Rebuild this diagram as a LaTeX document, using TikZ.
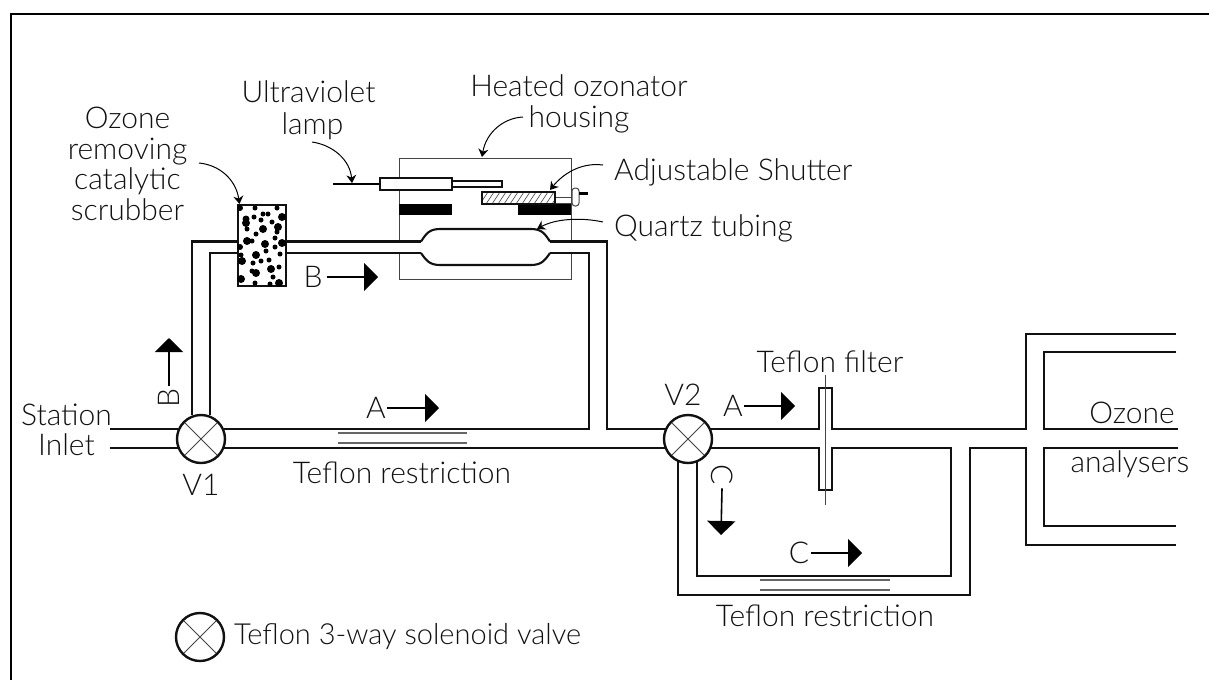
\documentclass[tikz,border=0pt]{standalone}
\usepackage{fontspec}
\setmainfont{Lato Light}
\usetikzlibrary{arrows.meta,calc}
\definecolor{pipeink}{HTML}{111111}
\definecolor{thinink}{HTML}{444444}
\definecolor{restrictink}{HTML}{666666}
\tikzset{
  pipe/.style={draw=pipeink, line width=2.1pt},
  casing/.style={draw=thinink, line width=1pt},
  txt/.style={font=\fontsize{30}{30.5}\selectfont, inner sep=0pt, align=center, text=pipeink},
  valve/.style={circle, draw=pipeink, line width=2.4pt, fill=white, minimum size=48pt, inner sep=0pt,
    path picture={\draw[thinink, line width=.9pt] (path picture bounding box.north west) -- (path picture bounding box.south east)
      (path picture bounding box.north east) -- (path picture bounding box.south west);}},
  flow/.style={-{Triangle[length=14pt,width=28pt]}, line width=1.6pt, draw=black, shorten >=-1pt},
  lead/.style={-{Stealth[length=8pt,width=10pt]}, line width=1pt, draw=black},
  restrict/.style={draw=restrictink, line width=1.1pt},
}
\begin{document}
\begin{tikzpicture}[x=1pt,y=-1pt]
  \useasboundingbox (0,0) rectangle (1209,680);
  \draw[black, line width=2pt] (11,680) -- (11,14) -- (1209,14);
  % ozonator housing
  \draw[casing] (399,158) rectangle (571,279);
  \fill[white] (390,242) rectangle (580,253);
  % pipes
  \draw[pipe] (110,429) -- (178,429) (110,448) -- (178,448);
  \draw[pipe] (192,415) -- (192,241.5) -- (421,241.5) (210,415) -- (210,253) -- (421,253);
  \draw[pipe] (224,429) -- (589,429) -- (589,253) -- (550,253) (224,448) -- (666,448);
  \draw[pipe] (550,241.5) -- (607,241.5) -- (607,429) -- (666,429);
  \draw[pipe] (710,429) -- (819,429) -- (819,388) -- (832,388) -- (832,429) -- (1026,429) -- (1026,334) -- (1176,334);
  \draw[pipe] (710,448) -- (819,448) -- (819,490) -- (832,490) -- (832,448) -- (951,448) -- (951,576) -- (697,576) -- (697,455);
  \draw[pipe] (678,455) -- (678,595) -- (970,595) -- (970,448) -- (1026,448) -- (1026,545) -- (1176,545);
  \draw[pipe] (1176,352) -- (1044,352) -- (1044,429) -- (1178,429);
  \draw[pipe] (1178,448) -- (1044,448) -- (1044,526) -- (1176,526);
  \draw[casing] (825,375) -- (825,505);
  % restrictions
  \draw[restrict] (338,433) -- (467,433) (338,443) -- (467,443);
  \draw[restrict] (760,580) -- (890,580) (760,590) -- (890,590);
  % quartz tubing
  \draw[pipe] (421,241.5) .. controls (426,234) and (429,229) .. (440,229) -- (531,229) .. controls (542,229) and (545,234) .. (550,241.5);
  \draw[pipe] (421,253) .. controls (426,260) and (429,265) .. (440,265) -- (531,265) .. controls (542,265) and (545,260) .. (550,253);
  % scrubber
  \draw[pipe, fill=white] (238,205) rectangle (286,286);
  \foreach \x/\y/\r in {240/208/3,255/208/2.5,277/208/2.5,263/214/2.5,268/214/2.5,282/217/4,246/219/3.5,246/223/4,254/217/2.5,261/220/2.5,
    272/222/2.5,278/227/4,277/232/2.5,263/229/4,247/229/2.5,256/234/2.5,275/238/2.5,282/243/4,247/241/4,252/241/2.5,265/244/4,240/247/3,
    275/247/2.5,266/251/2.5,241/255/2.5,256/255/4,242/261/4,253/263/2.5,261/261/2.5,269/260/2.5,280/254/2.5,271/269/4,279/267/2.5,252/271/2.5,
    256/273/4,273/277/2.5,241/279/4,255/283/2.5,279/283/4,270/284/2.5}
    \fill[black] (\x,\y) circle (\r pt);
  % lamp
  \draw[black, line width=1.3pt] (333,184) -- (380,184);
  \draw[pipe, fill=white] (380,178) rectangle (452,190);
  \draw[pipe, line width=1.4pt, fill=white] (452,181) rectangle (502,187);
  % blocks and shutter
  \fill[black] (399,204) rectangle (452,215);
  \fill[black] (518,204) rectangle (571,215);
  \draw[casing] (555,197) -- (572,197) (555,203) -- (572,203);
  \begin{scope}
    \clip (482,192) rectangle (555,204);
    \foreach \x in {480,486,...,558} \draw[thinink, line width=.6pt] (\x,204) -- (\x+8,192);
  \end{scope}
  \draw[pipe] (482,192) rectangle (555,204);
  \draw[casing, rounded corners=3pt] (572,188) rectangle (579,206);
  \fill[black] (579,192) rectangle (588,195);
  % valves
  \node[valve] (valveone) at (201,439) {};
  \node[valve] (valvetwo) at (688,439) {};
  \node[valve] (valvekey) at (200,637) {};
  % texts
  \node[txt] (scrubberlabel) at (127.5,164) {Ozone\\removing\\catalytic\\scrubber};
  \node[txt] (uvlabel) at (308.5,92) {Ultraviolet};
  \node[txt] (lamplabel) at (312.5,126) {lamp};
  \node[txt] (heatedlabel) at (579,104) {Heated ozonator\\housing};
  \node[txt, anchor=west] (shutterlabel) at (614,172) {Adjustable Shutter};
  \node[txt, anchor=west] (quartzlabel) at (614,228) {Quartz tubing};
  \node[txt] (inletlabel) at (66.5,430) {Station\\Inlet};
  \node[txt] (vonelabel) at (201,485) {V1};
  \node[txt] (vtwolabel) at (683,395) {V2};
  \node[txt] (restrictone) at (402,473) {Teflon restriction};
  \node[txt] (filterlabel) at (830,362) {Teflon filter};
  \node[txt] (ozonelabel) at (1132,413) {Ozone};
  \node[txt] (analyserlabel) at (1130,464) {analysers};
  \node[txt] (restricttwo) at (825,616) {Teflon restriction};
  \node[txt, anchor=west, font=\fontsize{29}{30}\selectfont] (keylabel) at (234,636) {Teflon 3-way solenoid valve};
  % flow letters
  \node[txt] (lblbup) at (169,398) [rotate=90] {B};
  \node[txt] (lblbright) at (313,277) {B};
  \node[txt] (lblaone) at (376,408) {A};
  \node[txt] (lblatwo) at (733,406) {A};
  \node[txt] (lblcdown) at (722,475) [rotate=-90] {C};
  \node[txt] (lblcright) at (799,553) {C};
  \coordinate (tipbup) at (169,339);
  \coordinate (tipbright) at (377,277);
  \coordinate (tipaone) at (438,408);
  \coordinate (tipatwo) at (794,406);
  \coordinate (tipcdown) at (721,534);
  \coordinate (tipcright) at (861,553);
  \draw[flow] (lblbup.east) ++(0,-2) -- (tipbup);
  \draw[flow] (lblbright.east) ++(4,0) -- (tipbright);
  \draw[flow] (lblaone.east) ++(1,0) -- (tipaone);
  \draw[flow] (lblatwo.east) ++(1,0) -- (tipatwo);
  \draw[flow] (lblcdown.east) ++(0,3) -- (tipcdown);
  \draw[flow] (lblcright.east) ++(2,0) -- (tipcright);
  % leads
  \coordinate (scrubbertip) at (239.5,204);
  \coordinate (lamptip) at (352,183);
  \coordinate (housingtip) at (482,157);
  \coordinate (shuttertip) at (550,190);
  \coordinate (quartztip) at (537,229);
  \draw[lead] (199,163) .. controls (220,165) and (236,180) .. (scrubbertip);
  \draw[lead] (312,142) .. controls (333,145) and (350,160) .. (lamptip);
  \draw[lead] (523,117) .. controls (503,118) and (486,133) .. (housingtip);
  \draw[lead] (603,165) .. controls (580,162) and (562,175) .. (shuttertip);
  \draw[lead] (603,222) .. controls (580,217) and (555,219) .. (quartztip);
\end{tikzpicture}
\end{document}
